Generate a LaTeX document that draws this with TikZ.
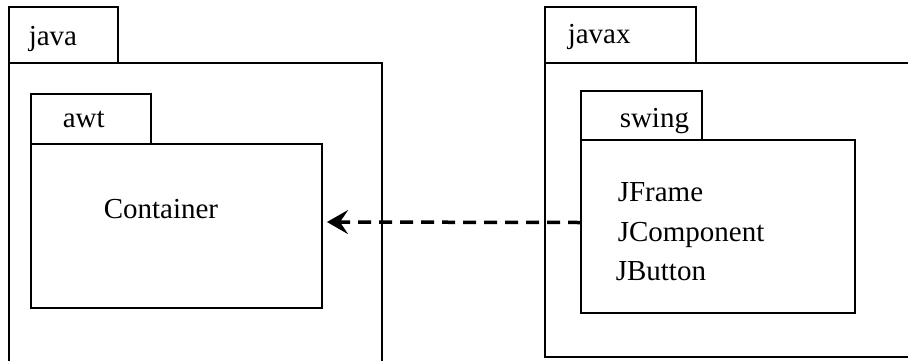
\documentclass[tikz,border=0pt]{standalone}
\usepackage{fontspec}
\newfontfamily\pkgfont{Liberation Serif}
\usetikzlibrary{arrows.meta}
\begin{document}
\begin{tikzpicture}[x=1pt,y=-1pt,line width=1.5pt,
    box/.style={draw,rectangle,anchor=north west,inner sep=0pt,outer sep=0pt},
    txt/.style={anchor=base west,inner sep=0pt,font=\pkgfont\fontsize{29}{34}\selectfont}]
      \useasboundingbox (0,0) rectangle (908,360);
      % java
      \node[box,minimum width=109pt,minimum height=56pt] (javatab) at (9,7) {};
      \node[txt] (java) at (28,45) {java};
      \draw (9,362) -- (javatab.south west) -- (382,63) -- (382,362);
      \node[box,minimum width=120pt,minimum height=50pt] (awttab) at (31,94) {};
      \node[txt] (awt) at (62,127) {awt};
      \node[box,minimum width=291pt,minimum height=164pt] (awtbody) at (awttab.south west) {};
      \node[txt] (container) at (103,218) {Container};
      % javax
      \node[box,minimum width=151pt,minimum height=56pt] (javaxtab) at (545,7) {};
      \node[txt] (javax) at (567,43) {javax};
      \draw (910,357) -- (545,357) -- (javaxtab.south west) -- (910,63);
      \node[box,minimum width=121pt,minimum height=49pt] (swingtab) at (581,91) {};
      \node[txt] (swing) at (619,127) {swing};
      \node[box,minimum width=274pt,minimum height=173pt] (swingbody) at (swingtab.south west) {};
      \node[txt] (jframe) at (617,201) {JFrame};
      \node[txt] (jcomponent) at (617,241) {JComponent};
      \node[txt] (jbutton) at (615,280) {JButton};
      % uses
      \draw[line width=3.5pt,dash pattern=on 13pt off 8pt,-{Stealth[length=21pt,width=24pt,inset=8pt]},shorten >=5pt]
        ([yshift=4pt]swingbody.west) -- ([yshift=4pt]awtbody.east);
    \end{tikzpicture}
\end{document}
